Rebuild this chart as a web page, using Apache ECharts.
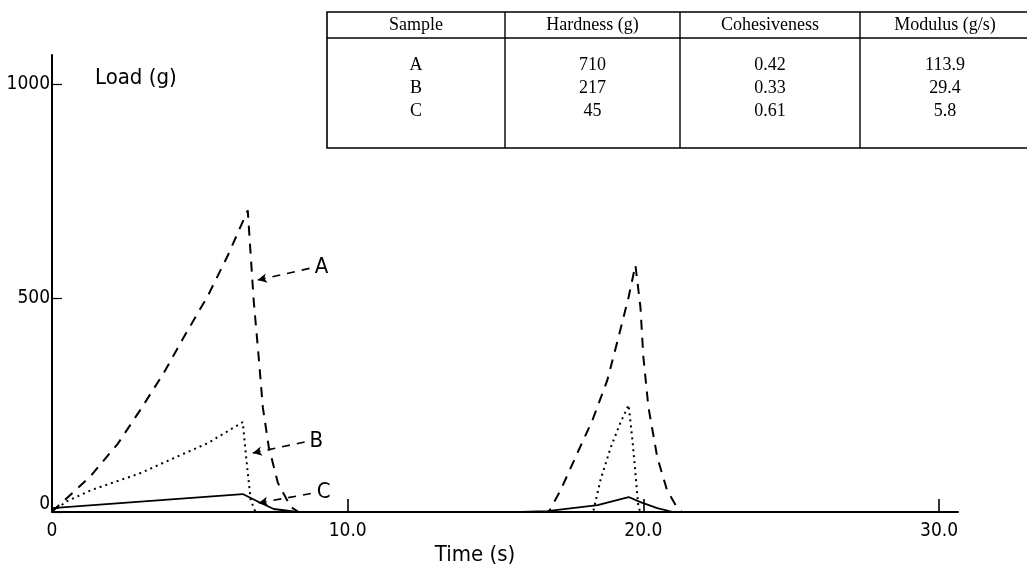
<!DOCTYPE html>
<html>
<head>
<meta charset="utf-8" />
<script src="https://cdn.jsdelivr.net/npm/echarts@6.0.0/dist/echarts.min.js"></script>
<style>
  html, body { margin: 0; padding: 0; background: #fff; }
  #chart { width: 1027px; height: 569px; }
</style>
</head>
<body>
<div id="chart"></div>
<script>
// curve A (dashed)
const timeA = [0, 0.14, 0.7, 1.32, 2.23, 3.0, 3.78, 4.46, 5.27, 5.95, 6.62, 6.82, 6.99, 7.13, 7.33, 7.64, 8.07, 8.34,
  16.8, 17.2, 17.77, 18.28, 18.78, 19.16, 19.5, 19.73, 19.9, 20.0, 20.17, 20.47, 20.8, 21.15, 21.3];
const loadA = [0, 10, 45, 85, 160, 240, 325, 409, 505, 600, 705, 495, 362, 245, 152, 68, 12, 0,
  0, 51, 138, 215, 308, 409, 502, 577, 479, 362, 245, 128, 51, 9, 0];
// curve B (dotted)
const timeB = [0, 0.5, 1.32, 3.0, 4.12, 5.27, 6.45, 6.6, 6.72, 6.88, 18.3, 18.55, 18.9, 19.22, 19.5, 19.63, 19.73, 19.83, 19.9];
const loadB = [0, 25, 51, 91, 126, 161, 210, 105, 28, 0, 0, 75, 152, 208, 250, 168, 91, 12, 0];
// curve C (solid)
const timeC = [0, 6.45, 7.06, 7.5, 8.3, 15.85, 16.75, 18.45, 19.5, 19.9, 20.47, 21.0];
const loadC = [9, 42, 21, 7, 0, 0, 2, 16, 35, 23, 9, 0];

// leader arrows [tip, tail] in data units
const leaderA = [[6.96, 542], [8.75, 570]];
const leaderB = [[6.79, 138], [8.58, 164]];
const leaderC = [[6.99, 21], [8.82, 44]];

const xTicks = [0, 10, 20, 30];
const yTicks = [0, 500, 1000];

// inset table
const tableHeader = ["Sample", "Hardness (g)", "Cohesiveness", "Modulus (g/s)"];
const samples = ["A", "B", "C"];
const hardness = ["710", "217", "45"];
const cohesiveness = ["0.42", "0.33", "0.61"];
const modulus = ["113.9", "29.4", "5.8"];

const plotFont = "'DejaVu Sans Condensed', 'DejaVu Sans', sans-serif";
const tableFont = "'Liberation Serif', 'DejaVu Serif', serif";

function zip(t, v) {
  return t.map(function (x, i) { return [x, v[i]]; });
}

function leader(pts, name) {
  return {
    silent: true,
    symbol: ["arrow", "none"],
    symbolSize: [7, 9],
    lineStyle: { color: "#000", type: [8, 7], width: 1.6 },
    label: {
      show: true,
      position: "end",
      formatter: name,
      color: "#000",
      fontFamily: plotFont,
      fontSize: 22,
      distance: 4,
    },
    data: [[{ coord: pts[0] }, { coord: pts[1] }]],
  };
}

// table drawn as graphic elements
const colEdges = [327, 505, 680, 860, 1040];
const tableTop = 12, headerLine = 38, tableBottom = 148;
const rowY = [65, 88, 111];
const tableEls = [];
tableEls.push({
  type: "rect",
  shape: { x: colEdges[0], y: tableTop, width: colEdges[4] - colEdges[0], height: tableBottom - tableTop },
  style: { fill: "none", stroke: "#000", lineWidth: 1.6 },
});
tableEls.push({
  type: "line",
  shape: { x1: colEdges[0], y1: headerLine, x2: colEdges[4], y2: headerLine },
  style: { stroke: "#000", lineWidth: 1.6 },
});
for (let i = 1; i < 4; i++) {
  tableEls.push({
    type: "line",
    shape: { x1: colEdges[i], y1: tableTop, x2: colEdges[i], y2: tableBottom },
    style: { stroke: "#000", lineWidth: 1.4 },
  });
}
const columns = [samples, hardness, cohesiveness, modulus];
for (let c = 0; c < 4; c++) {
  const cx = c < 3 ? (colEdges[c] + colEdges[c + 1]) / 2 : 945;
  tableEls.push({
    type: "text",
    x: cx,
    y: (tableTop + headerLine) / 2,
    style: {
      text: tableHeader[c], fill: "#000", font: "18px " + tableFont,
      textAlign: "center", textVerticalAlign: "middle",
    },
  });
  for (let r = 0; r < 3; r++) {
    tableEls.push({
      type: "text",
      x: cx,
      y: rowY[r],
      style: {
        text: columns[c][r], fill: "#000", font: "18px " + tableFont,
        textAlign: "center", textVerticalAlign: "middle",
      },
    });
  }
}

const chart = echarts.init(document.getElementById("chart"));
const option = {
  animation: false,
  backgroundColor: "#fff",
  grid: { left: 52, right: 69, top: 55, bottom: 57, containLabel: false },
  xAxis: {
    type: "value",
    min: 0,
    max: 30.64,
    axisLine: { show: true, lineStyle: { color: "#000", width: 2 } },
    axisTick: { show: true, inside: true, length: 13, customValues: xTicks, lineStyle: { color: "#000", width: 1.6 } },
    axisLabel: {
      customValues: xTicks,
      color: "#000",
      fontFamily: plotFont,
      fontSize: 19,
      margin: 10,
      formatter: function (v) { return v === 0 ? "0" : v.toFixed(1); },
    },
    splitLine: { show: false },
  },
  yAxis: {
    type: "value",
    min: 0,
    max: 1068,
    axisLine: { show: true, lineStyle: { color: "#000", width: 2 } },
    axisTick: { show: true, inside: true, length: 10, customValues: yTicks, lineStyle: { color: "#000", width: 1.2 } },
    axisLabel: {
      customValues: yTicks,
      color: "#000",
      fontFamily: plotFont,
      fontSize: 19,
      margin: 2,
      formatter: function (v) { return v === 0 ? "{z|0}" : String(v); },
      rich: { z: { fontFamily: plotFont, fontSize: 19, padding: [0, 0, 16, 0] } },
    },
    splitLine: { show: false },
  },
  graphic: [
    {
      type: "text",
      x: 95,
      y: 78,
      style: { text: "Load (g)", fill: "#000", font: "22px " + plotFont, textVerticalAlign: "middle" },
    },
    {
      type: "text",
      x: 475,
      y: 555,
      style: { text: "Time (s)", fill: "#000", font: "22px " + plotFont, textAlign: "center", textVerticalAlign: "middle" },
    },
    { type: "group", children: tableEls },
  ],
  series: [
    {
      name: "A",
      type: "line",
      data: zip(timeA, loadA),
      showSymbol: false,
      lineStyle: { color: "#000", width: 2, type: [10, 8] },
      markLine: leader(leaderA, "A"),
    },
    {
      name: "B",
      type: "line",
      data: zip(timeB, loadB),
      showSymbol: false,
      lineStyle: { color: "#000", width: 2, type: [2, 4] },
      markLine: leader(leaderB, "B"),
    },
    {
      name: "C",
      type: "line",
      data: zip(timeC, loadC),
      showSymbol: false,
      lineStyle: { color: "#000", width: 1.8 },
      markLine: leader(leaderC, "C"),
    },
  ],
};
chart.setOption(option);
</script>
</body>
</html>
